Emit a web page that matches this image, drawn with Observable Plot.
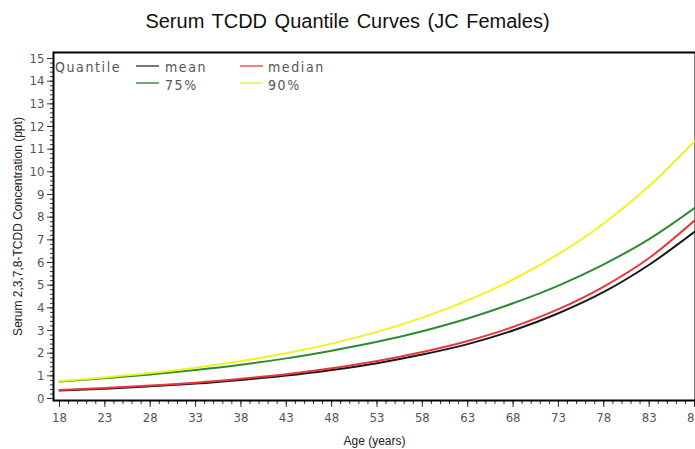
<!DOCTYPE html>
<html><head><meta charset="utf-8">
<script src="https://cdn.jsdelivr.net/npm/d3@7"></script>
<script src="https://cdn.jsdelivr.net/npm/@observablehq/plot@0.6"></script>
<style>
body{margin:0;background:#fff;width:695px;height:449px;overflow:hidden;position:relative;font-family:"Liberation Sans",Arial,sans-serif;}
#title{height:40px;line-height:42px;text-align:center;font-size:20px;color:#111;word-spacing:2px;white-space:nowrap;}
#legend{position:absolute;left:0;top:0;font-family:"Liberation Sans Narrow","DejaVu Sans Condensed",sans-serif;font-size:14px;color:#555;letter-spacing:1.6px;}
#legend .t{position:absolute;white-space:nowrap;line-height:16px;}
#legend .l{position:absolute;height:2px;width:23px;}
</style></head><body>
<div id="title">Serum TCDD Quantile Curves (JC Females)</div>
<div id="chart"></div>
<div id="legend"></div>
<script>
const ages   = [18, 23, 28, 33, 38, 43, 48, 53, 58, 63, 68, 73, 78, 83, 88];
const mean   = [0.35, 0.43, 0.54, 0.66, 0.82, 1.01, 1.26, 1.56, 1.94, 2.40, 3.00, 3.76, 4.70, 5.90, 7.35];
const median = [0.38, 0.46, 0.57, 0.70, 0.87, 1.07, 1.33, 1.65, 2.05, 2.54, 3.16, 3.94, 4.94, 6.20, 7.85];
const q75    = [0.75, 0.89, 1.06, 1.26, 1.49, 1.77, 2.11, 2.50, 2.97, 3.53, 4.20, 4.98, 5.92, 7.03, 8.40];
const q90    = [0.77, 0.93, 1.12, 1.36, 1.65, 2.00, 2.42, 2.94, 3.57, 4.33, 5.25, 6.37, 7.72, 9.37, 11.35];
const seriesNames  = ["mean", "median", "75%", "90%"];
const seriesColors = ["#1a1a1a", "#e8383c", "#2e8b34", "#f2f222"];
const legendColors = ["#777777", "#f08080", "#70a870", "#f4f47a"];
const xTicks = [18, 23, 28, 33, 38, 43, 48, 53, 58, 63, 68, 73, 78, 83, 88];
const yTicks = [0,1,2,3,4,5,6,7,8,9,10,11,12,13,14,15];

const seriesValues = [mean, median, q75, q90];
const data = [];
seriesValues.forEach((vals, si) => vals.forEach((v, i) => data.push({age: ages[i], value: v, series: seriesNames[si]})));

const xMinor = d3.range(18, 89, 1);
const yMinor = d3.range(0, 15.01, 0.2).map(v => +v.toFixed(1));
const tickFont = "'Liberation Sans Narrow','DejaVu Sans Condensed',sans-serif";

const chart = Plot.plot({
  width: 695, height: 409,
  marginTop: 12, marginBottom: 49, marginLeft: 53, marginRight: 0,
  x: {domain: [18, 88], insetLeft: 6, insetRight: 1},
  y: {domain: [0, 15], insetTop: 6, insetBottom: 2},
  color: {domain: seriesNames, range: seriesColors},
  style: {background: "white", color: "#000"},
  marks: [
    Plot.axisX({ticks: xMinor, tickSize: 4, text: null, label: null, stroke: "#333"}),
    Plot.axisX({ticks: xTicks, tickSize: 7, tickPadding: 5, tickFormat: d => String(d), fontFamily: tickFont, fontSize: 13, fill: "#555", stroke: "#333", label: null}),
    Plot.axisX({ticks: [], label: "Age (years)", labelAnchor: "center", labelArrow: "none", labelOffset: 44, fontFamily: "Liberation Sans, Arial, sans-serif", fontSize: 12, fill: "#222"}),
    Plot.axisY({ticks: yMinor, tickSize: 3, text: null, label: null, stroke: "#333"}),
    Plot.axisY({ticks: yTicks, tickSize: 6, tickPadding: 3, tickFormat: d => String(d), fontFamily: tickFont, fontSize: 13, fill: "#555", stroke: "#333", label: null}),
    Plot.axisY({ticks: [], label: "Serum 2,3,7,8-TCDD Concentration (ppt)", labelAnchor: "center", labelArrow: "none", labelOffset: 40, fontFamily: "Liberation Sans, Arial, sans-serif", fontSize: 12, fill: "#222"}),
    Plot.frame({stroke: "#000", strokeWidth: 2}),
    Plot.line(data, {x: "age", y: "value", z: "series", stroke: "series", strokeWidth: 2, curve: "monotone-x"})
  ]
});
document.getElementById("chart").appendChild(chart);

// legend
const legend = document.getElementById("legend");
const legendPos = [
  {lx: 136, ly: 65, tx: 165, ty: 59},
  {lx: 240, ly: 65, tx: 268, ty: 59},
  {lx: 136, ly: 82, tx: 165, ty: 77},
  {lx: 240, ly: 82, tx: 268, ty: 77}
];
const q = document.createElement("div");
q.className = "t"; q.style.left = "55px"; q.style.top = "59px"; q.textContent = "Quantile";
legend.appendChild(q);
seriesNames.forEach((name, i) => {
  const p = legendPos[i];
  const l = document.createElement("div");
  l.className = "l"; l.style.left = p.lx + "px"; l.style.top = p.ly + "px"; l.style.background = legendColors[i];
  legend.appendChild(l);
  const t = document.createElement("div");
  t.className = "t"; t.style.left = p.tx + "px"; t.style.top = p.ty + "px"; t.textContent = name;
  legend.appendChild(t);
});
</script>
</body></html>
